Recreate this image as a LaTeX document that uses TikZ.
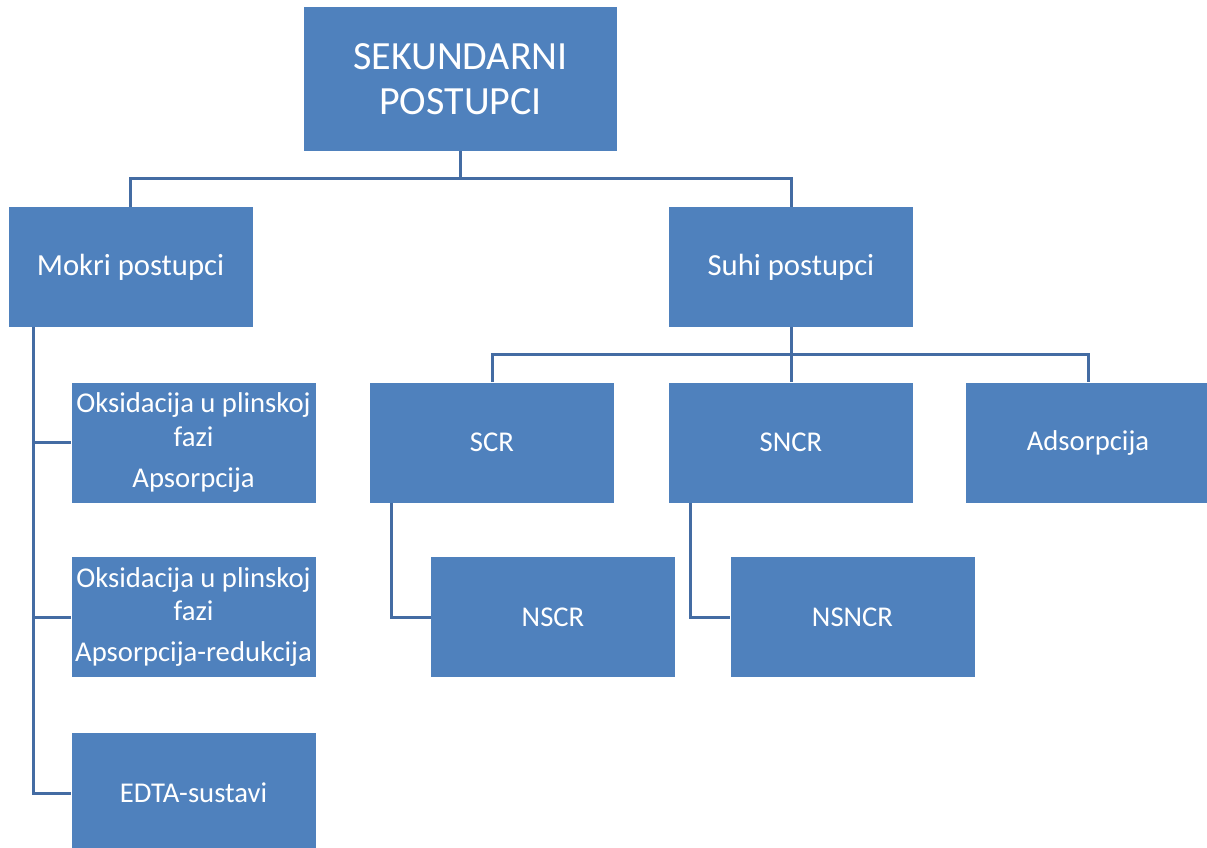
\documentclass[tikz,border=0pt]{standalone}
\usepackage{fontspec}
\setmainfont{Carlito}
\usepackage{xcolor}
\usepackage{tikz}
\usetikzlibrary{positioning,calc}
\definecolor{boxblue}{RGB}{79,129,189}
\definecolor{lineblue}{RGB}{68,108,163}

\begin{document}
\begin{tikzpicture}[x=0.75pt, y=-0.75pt,
    every node/.style={rectangle, fill=boxblue, text=white, align=center, inner sep=0pt},
    box/.style={minimum width=183pt, minimum height=90pt, font=\fontsize{21.5}{25}\selectfont},
    midbox/.style={minimum width=183pt, minimum height=90pt, font=\fontsize{23}{28}\selectfont},
    topbox/.style={minimum width=234.75pt, minimum height=108pt, font=\fontsize{30}{34}\selectfont},
    conn/.style={draw=lineblue, line width=2.25pt}]

    \useasboundingbox (0,0) rectangle (1207,847);

    \node[topbox] (sek) at (460.5,79) {SEKUNDARNI\\POSTUPCI};
    \node[midbox] (mokri) at (130.5,267) {Mokri postupci};
    \node[midbox] (suhi) at (791,267) {Suhi postupci};

    \node[box] (scr) at (492,442.5) {SCR};
    \node[box] (sncr) at (791,442.5) {SNCR};
    \node[box] (ads) at (1088,442.5) {Adsorpcija};
    \node[box] (nscr) at (553,617) {NSCR};
    \node[box] (nsncr) at (852.5,617) {NSNCR};

    \node[box] (oxabs) at (193.5,442.5) {Oksidacija u plinskoj\\fazi\\[6pt]Apsorpcija};
    \node[box] (oxred) at (193.5,617) {Oksidacija u plinskoj\\fazi\\[6pt]Apsorpcija-redukcija};
    \node[box] (edta) at (193.5,793) {EDTA-sustavi};

    \coordinate (topbus) at (460.5,178);
    \coordinate (suhibus) at (791,354);
    \coordinate (mokrispine) at ([xshift=18.75pt]mokri.south west);

    \draw[conn] (sek.south) -- (topbus);
    \draw[conn] (mokri.north) |- (topbus) -| (suhi.north);
    \draw[conn] (suhi.south) -- (sncr.north);
    \draw[conn] (scr.north) |- (suhibus) -| (ads.north);
    \draw[conn] ([xshift=16.5pt]scr.south west) |- (nscr.west);
    \draw[conn] ([xshift=16.5pt]sncr.south west) |- (nsncr.west);
    \draw[conn] (mokrispine) |- (edta.west);
    \foreach \n in {oxabs,oxred}
        \draw[conn] (\n.west) -- (\n.west -| mokrispine);
\end{tikzpicture}
\end{document}
